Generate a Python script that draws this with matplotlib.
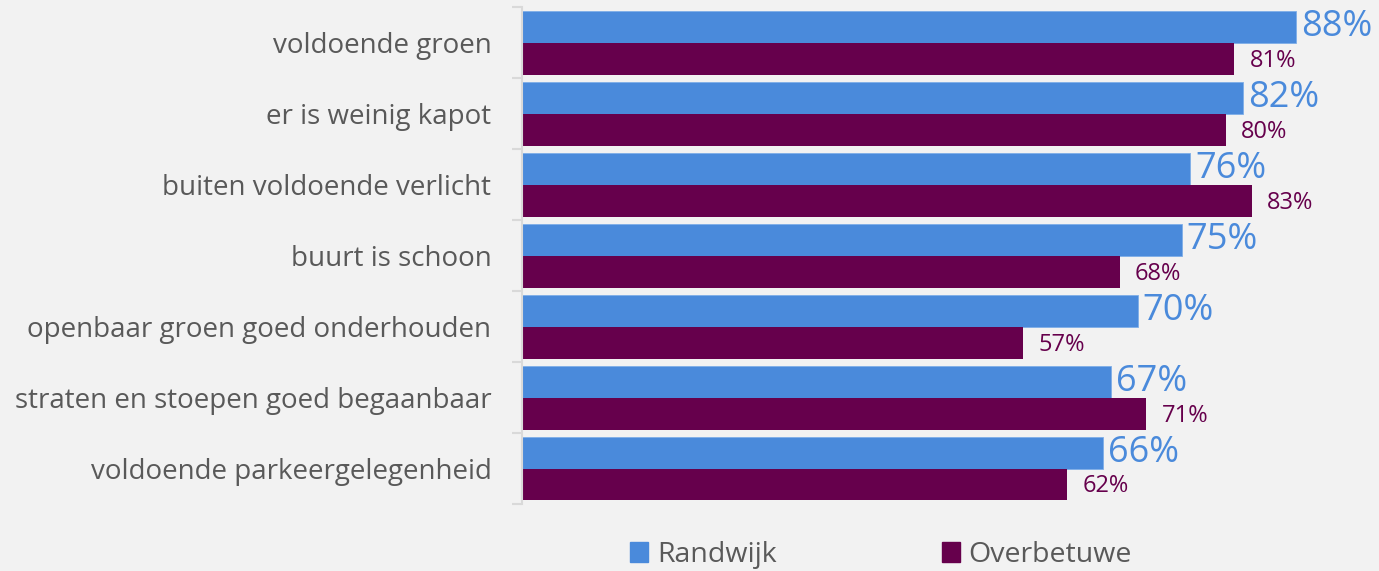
import matplotlib
matplotlib.use("Agg")
import matplotlib.pyplot as plt
import numpy as np
from matplotlib.patches import Patch

categories = ["voldoende groen", "er is weinig kapot", "buiten voldoende verlicht",
              "buurt is schoon", "openbaar groen goed onderhouden",
              "straten en stoepen goed begaanbaar", "voldoende parkeergelegenheid"]
randwijk = [88, 82, 76, 75, 70, 67, 66]
overbetuwe = [81, 80, 83, 68, 57, 71, 62]
series_names = ["Randwijk", "Overbetuwe"]

blue = "#4A8ADB"
purple = "#66004C"
bg = "#F2F2F2"
grey_text = "#595959"

W, H = 1379, 571
fig = plt.figure(figsize=(W/100, H/100), dpi=100, facecolor=bg)
ax = fig.add_axes([522/W, 1-504/H, (W-522)/W, (504-7.5)/H])
ax.set_facecolor(bg)

n = len(categories)
y = np.arange(n)
h = 0.45
ax.barh(y - h/2, randwijk, height=h, color=blue, edgecolor="#7FAEE8", linewidth=0.6)
ax.barh(y + h/2, overbetuwe, height=h, color=purple, edgecolor="none")

px_per_unit = (1296-522)/88
ax.set_xlim(0, (W-522)/px_per_unit)
ax.set_ylim(n-0.5, -0.5)

for i in range(n):
    ax.annotate(f"{randwijk[i]}%", (randwijk[i], y[i]-h/2), xytext=(5, 0),
                textcoords="offset pixels", va="center", ha="left",
                fontsize=26, color=blue, family="Open Sans")
    ax.annotate(f"{overbetuwe[i]}%", (overbetuwe[i], y[i]+h/2), xytext=(15, -2),
                textcoords="offset pixels", va="center", ha="left",
                fontsize=17, color=purple, family="Open Sans")

ax.set_yticks(y)
ax.set_yticklabels(categories, fontsize=20, color=grey_text, family="Open Sans")
ax.set_yticks(np.arange(-0.5, n, 1), minor=True)
ax.tick_params(axis="y", which="major", length=0, pad=22)
ax.tick_params(axis="y", which="minor", length=7, color="#D9D9D9", width=1.5)
ax.set_xticks([])
for s in ["top", "right", "bottom"]:
    ax.spines[s].set_visible(False)
ax.spines["left"].set_color("#D9D9D9")
ax.spines["left"].set_linewidth(1.5)

handles = [Patch(color=blue), Patch(color=purple)]
fig.legend(handles, series_names, loc="center", bbox_to_anchor=(881/W, 1-555/H),
           ncol=2, frameon=False, handlelength=0.65, handleheight=0.65,
           handletextpad=0.3, columnspacing=5.8, labelcolor=grey_text,
           prop={"family": "Open Sans", "size": 20.5})

fig.savefig("out.png", dpi=100, facecolor=bg)
